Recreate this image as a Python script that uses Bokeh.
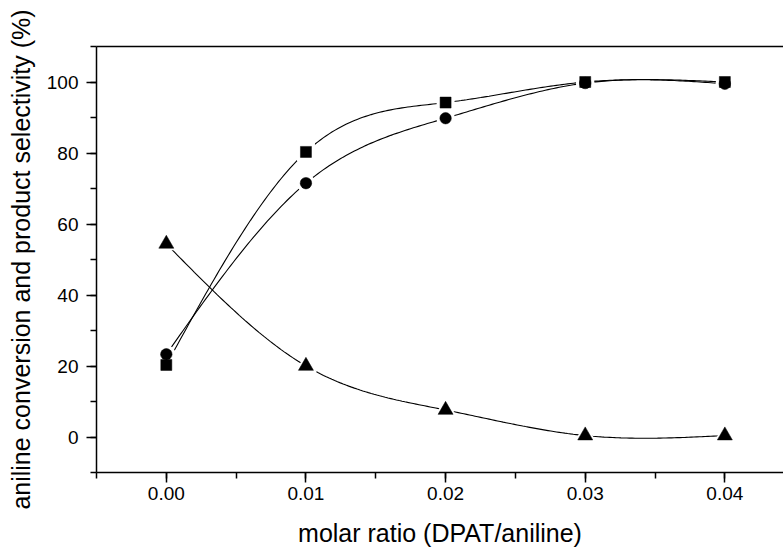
import numpy as np
from bokeh.plotting import figure
from bokeh.models import (Range1d, SingleIntervalTicker, LinearAxis, FixedTicker,
                          ColumnDataSource, NumeralTickFormatter)
from bokeh.embed import file_html
from bokeh.resources import INLINE

# Data
molar_ratio = [0.00, 0.01, 0.02, 0.03, 0.04]
conversion = [20.3, 80.3, 94.2, 100.0, 100.0]      # squares
selectivity_a = [23.3, 71.5, 89.8, 99.7, 99.5]     # circles
selectivity_b = [54.4, 20.0, 7.6, 0.4, 0.4]        # triangles

FONT = "Liberation Sans"


def natural_spline(xs, ys, n=200):
    xs = np.asarray(xs, float)
    ys = np.asarray(ys, float)
    k = len(xs)
    h = np.diff(xs)
    A = np.zeros((k, k))
    b = np.zeros(k)
    A[0, 0] = 1.0
    A[-1, -1] = 1.0
    for i in range(1, k - 1):
        A[i, i - 1] = h[i - 1]
        A[i, i] = 2 * (h[i - 1] + h[i])
        A[i, i + 1] = h[i]
        b[i] = 3 * ((ys[i + 1] - ys[i]) / h[i] - (ys[i] - ys[i - 1]) / h[i - 1])
    c = np.linalg.solve(A, b)
    xx = np.linspace(xs[0], xs[-1], n)
    yy = np.empty_like(xx)
    for j, x in enumerate(xx):
        i = min(np.searchsorted(xs, x, side="right") - 1, k - 2)
        d = x - xs[i]
        bi = (ys[i + 1] - ys[i]) / h[i] - h[i] * (2 * c[i] + c[i + 1]) / 3
        di = (c[i + 1] - c[i]) / (3 * h[i])
        yy[j] = ys[i] + bi * d + c[i] * d * d + di * d ** 3
    return xx, yy


p = figure(width=783, height=549, output_backend="svg", toolbar_location=None,
           x_range=Range1d(-0.005, 0.0442), y_range=Range1d(-10, 110),
           min_border_left=96, min_border_right=0, min_border_top=46, min_border_bottom=75)
p.outline_line_color = None
p.xgrid.visible = False
p.ygrid.visible = False
p.background_fill_color = "white"
p.border_fill_color = "white"

p.xaxis.ticker = SingleIntervalTicker(interval=0.01, num_minor_ticks=2)
p.yaxis.ticker = SingleIntervalTicker(interval=20, num_minor_ticks=2)
p.xaxis.formatter = NumeralTickFormatter(format="0.00")
p.yaxis.formatter = NumeralTickFormatter(format="0")

for ax in (p.xaxis[0], p.yaxis[0]):
    ax.axis_line_width = 1.5
    ax.axis_line_color = "black"
    ax.major_tick_line_color = "black"
    ax.major_tick_line_width = 1.5
    ax.minor_tick_line_color = "black"
    ax.minor_tick_line_width = 1.5
    ax.major_tick_in = 0
    ax.major_tick_out = 10
    ax.minor_tick_in = 0
    ax.minor_tick_out = 6
    ax.major_label_text_font = FONT
    ax.major_label_text_font_size = "19px"
    ax.major_label_text_color = "black"
    ax.axis_label_text_font = FONT
    ax.axis_label_text_font_size = "25px"
    ax.axis_label_text_font_style = "normal"
    ax.axis_label_text_color = "black"

p.xaxis.major_label_standoff = 4
p.yaxis.major_label_standoff = 8
p.xaxis.axis_label = "molar ratio (DPAT/aniline)"
p.yaxis.axis_label = "aniline conversion and product selectivity (%)"
p.xaxis.axis_label_standoff = 16
p.yaxis.axis_label_standoff = 9

top = LinearAxis(ticker=FixedTicker(ticks=[]), axis_line_width=1.5, axis_line_color="black",
                 major_tick_line_color=None, minor_tick_line_color=None,
                 major_label_text_font_size="0px")
p.add_layout(top, "above")

series = [
    (conversion, "square", 11),
    (selectivity_a, "circle", 11.5),
    (selectivity_b, "triangle", 15),
]

for ys, marker, size in series:
    xx, yy = natural_spline(molar_ratio, ys)
    p.line(xx, yy, line_color="black", line_width=1.1)

for ys, marker, size in series:
    src = ColumnDataSource(dict(x=molar_ratio, y=ys))
    p.scatter("x", "y", source=src, marker=marker, size=size + 7,
              fill_color="white", line_color=None)

for ys, marker, size in series:
    src = ColumnDataSource(dict(x=molar_ratio, y=ys))
    p.scatter("x", "y", source=src, marker=marker, size=size,
              fill_color="black", line_color="black", line_width=0.5)

open("out.html", "w").write(file_html(p, INLINE))
